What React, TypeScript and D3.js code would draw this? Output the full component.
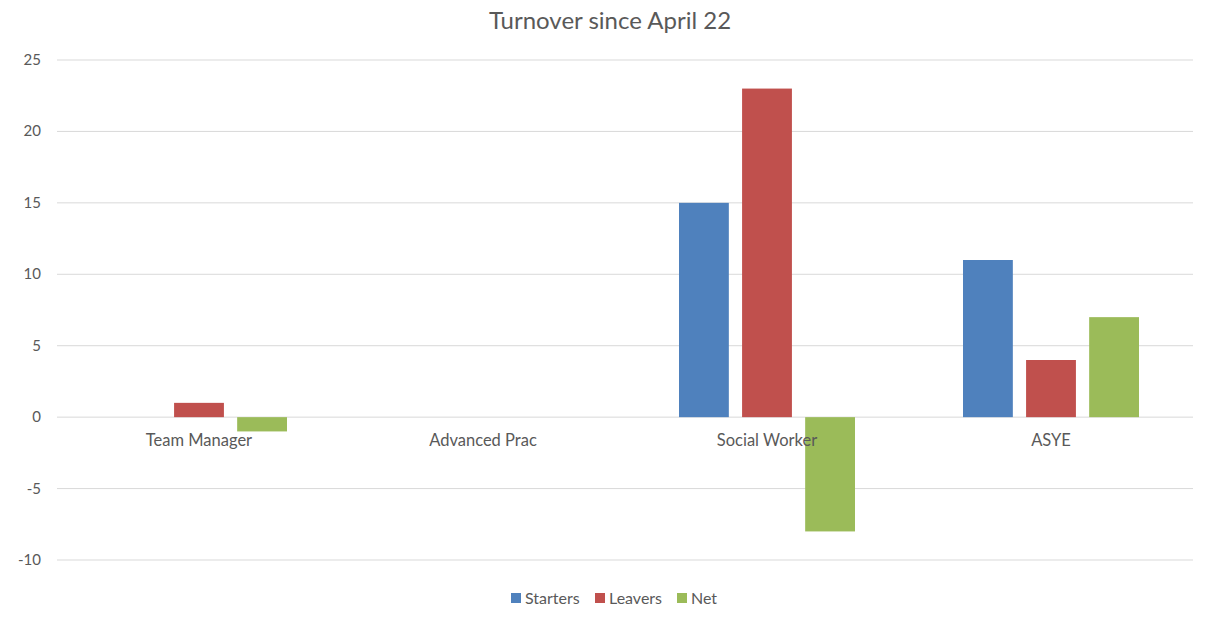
import React from "react";
import * as d3 from "d3";

const categories = ["Team Manager", "Advanced Prac", "Social Worker", "ASYE"];
const seriesNames = ["Starters", "Leavers", "Net"];
const starters = [0, 0, 15, 11];
const leavers = [1, 0, 23, 4];
const net = [-1, 0, -8, 7];
const yTicks = [-10, -5, 0, 5, 10, 15, 20, 25];
const colors = ["#4F81BD", "#C0504D", "#9BBB59"];

const W = 1206;
const H = 623;
const FONT = "Lato, 'Open Sans', sans-serif";

export default function App() {
  const series = [starters, leavers, net];
  const x = d3.scaleBand<string>().domain(categories).range([57, 1193]).paddingInner(0).paddingOuter(0);
  const y = d3.scaleLinear().domain([-10, 25]).range([560, 60]);
  const groupWidth = 176;
  const inner = d3
    .scaleBand<string>()
    .domain(seriesNames)
    .range([0, groupWidth])
    .paddingInner(0.21)
    .paddingOuter(0);

  const legendX = [511, 595, 677];

  return (
    <div style={{ position: "fixed", left: 0, top: 0 }}>
      <svg width={W} height={H} style={{ background: "#fff", display: "block" }}>
        <rect x={0} y={0} width={W} height={H} fill="#fff" />
        <text x={610} y={29} textAnchor="middle" fontFamily={FONT} fontSize={24} fill="#595959">
          Turnover since April 22
        </text>
        {yTicks.map((t) => (
          <g key={t}>
            <line x1={57} x2={1193} y1={y(t)} y2={y(t)} stroke="#D9D9D9" strokeWidth={1} />
            <text x={41} y={y(t) + 5} textAnchor="end" fontFamily={FONT} fontSize={15} fill="#595959">
              {t}
            </text>
          </g>
        ))}
        {categories.map((c, ci) => {
          const gx = (x(c) as number) + x.bandwidth() / 2 - groupWidth / 2;
          return (
            <g key={c}>
              {series.map((s, si) => {
                const v = s[ci];
                if (v === 0) return null;
                const y0 = y(0);
                const yv = y(v);
                return (
                  <rect
                    key={si}
                    x={gx + (inner(seriesNames[si]) as number)}
                    y={Math.min(y0, yv)}
                    width={inner.bandwidth()}
                    height={Math.abs(yv - y0)}
                    fill={colors[si]}
                  />
                );
              })}
            </g>
          );
        })}
        {categories.map((c) => (
          <text
            key={c}
            x={(x(c) as number) + x.bandwidth() / 2}
            y={y(0) + 29}
            textAnchor="middle"
            fontFamily={FONT}
            fontSize={16.5}
            fill="#595959"
          >
            {c}
          </text>
        ))}
        {seriesNames.map((n, i) => (
          <g key={n}>
            <rect x={legendX[i]} y={593} width={10} height={10} fill={colors[i]} />
            <text x={legendX[i] + 14} y={604} fontFamily={FONT} fontSize={16} fill="#595959">
              {n}
            </text>
          </g>
        ))}
      </svg>
    </div>
  );
}
